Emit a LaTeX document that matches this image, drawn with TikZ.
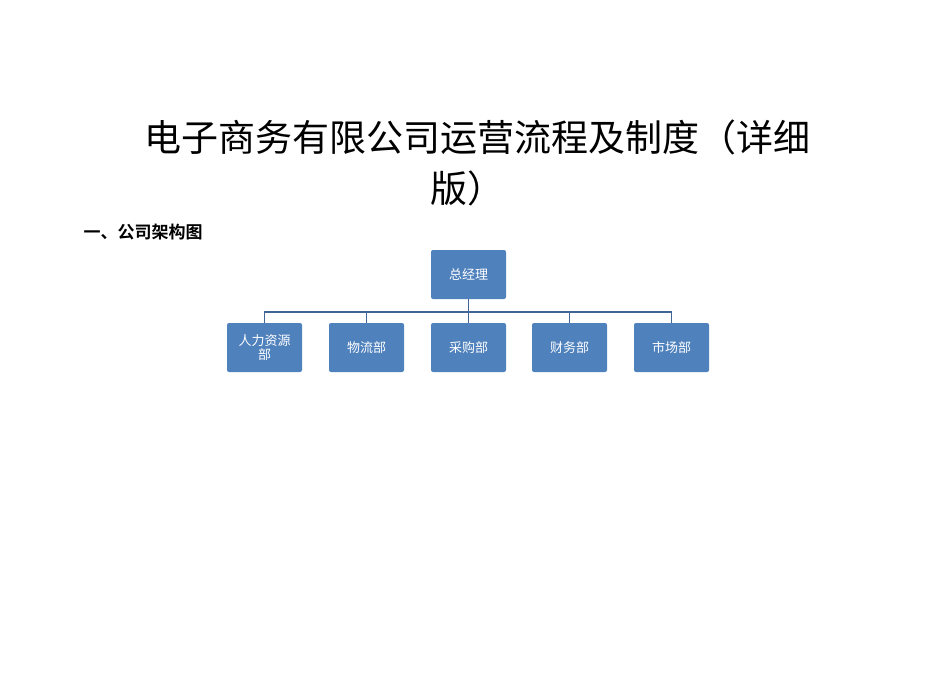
\documentclass[tikz,border=0pt]{standalone}
\usepackage{fontspec}
\newfontfamily\cjk{Noto Sans CJK SC}
\newfontfamily\cjkb{Noto Sans CJK SC Bold}
\begin{document}
\begin{tikzpicture}[x=1pt,y=-1pt,
  box/.style={draw=none,fill={rgb,255:red,79;green,129;blue,189},rounded corners=2pt,minimum width=75pt,minimum height=49pt,text=white,font=\cjk\fontsize{13}{14}\selectfont,align=center,text width=70pt,inner sep=0pt},
  conn/.style={draw={rgb,255:red,65;green,101;blue,150},line width=1.5pt}]
\useasboundingbox (0,0) rectangle (950,672);
\node[font=\cjk\fontsize{37}{40}\selectfont] (t1) at (477,137) {电子商务有限公司运营流程及制度（详细};
\node[font=\cjk\fontsize{37}{40}\selectfont] (t2) at (467,188) {版）};
\node[font=\cjkb\fontsize{17}{18}\selectfont,anchor=west] (h) at (80,232) {一、公司架构图};
\node[box] (gm) at (468.5,274.5) {总经理};
\foreach \n/\x/\t in {a/264.5/{人力资源\\部},b/366.5/物流部,c/468.5/采购部,d/569.5/财务部,e/671.5/市场部}{
  \node[box] (\n) at (\x,347.5) {\t};
}
\coordinate (bar) at (468.5,312);
\draw[conn] (gm.south) -- (bar);
\draw[conn] (a.north) |- (bar) -| (e.north);
\foreach \n in {b,c,d}{\draw[conn] (\n.north) -- (\n.north |- bar);}
\end{tikzpicture}
\end{document}
